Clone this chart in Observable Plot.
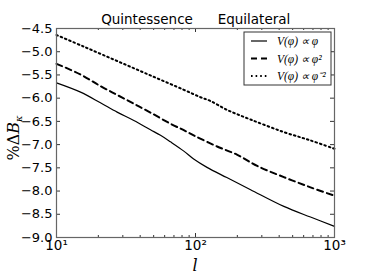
<!DOCTYPE html>
<html><head><meta charset="utf-8">
<script src="https://cdn.jsdelivr.net/npm/d3@7"></script>
<script src="https://cdn.jsdelivr.net/npm/@observablehq/plot@0.6"></script>
<style>body{margin:0;background:#fff}</style>
</head><body><div id="chart"></div>
<script>
// ---- data ----
const lSolid = [10, 14.9, 20.7, 27.3, 36, 47.4, 56, 66, 82.4, 97, 121, 168, 249, 432, 672, 1000];
const vSolid = [-5.67, -5.87, -6.10, -6.30, -6.48, -6.68, -6.80, -6.94, -7.14, -7.31, -7.49, -7.71, -7.97, -8.33, -8.56, -8.76];
const lDashed = [10, 14.9, 20.7, 27.3, 36, 47.4, 66, 82.4, 100, 143, 200, 278, 432, 672, 1000];
const vDashed = [-5.26, -5.49, -5.74, -5.93, -6.12, -6.31, -6.55, -6.69, -6.82, -7.04, -7.22, -7.46, -7.70, -7.92, -8.10];
const lDotted = [10, 15.7, 27.3, 47.4, 82.4, 108.7, 128, 168, 249, 432, 672, 1000];
const vDotted = [-4.64, -4.89, -5.20, -5.51, -5.82, -5.98, -6.06, -6.25, -6.46, -6.73, -6.91, -7.09];
const seriesNames = ["V(φ) ∝ φ", "V(φ) ∝ φ²", "V(φ) ∝ φ⁻²"];
const xMajor = [10, 100, 1000];
const xTickLabels = ["10¹", "10²", "10³"];
const xMinor = [20, 30, 40, 50, 60, 70, 80, 90, 200, 300, 400, 500, 600, 700, 800, 900];
const yTicks = [-9.0, -8.5, -8.0, -7.5, -7.0, -6.5, -6.0, -5.5, -5.0, -4.5];
const titleParts = ["Quintessence", "Equilateral"];

// ---- build ----
const W = 374, H = 280, mL = 56, mR = 40, mT = 28, mB = 43;
const iW = W - mL - mR, iH = H - mT - mB;
const toRows = (ls, vs) => ls.map((l, i) => ({l, v: vs[i]}));
const solid = toRows(lSolid, vSolid), dashed = toRows(lDashed, vDashed), dotted = toRows(lDotted, vDotted);
const styles = [
  {stroke: "black", strokeWidth: 1.2},
  {stroke: "black", strokeWidth: 2, strokeDasharray: "6,4"},
  {stroke: "black", strokeWidth: 2, strokeDasharray: "1.6,3"}
];
const fmtY = d => d.toFixed(1).replace("-", "−");
const plot = Plot.plot({
  width: W, height: H, marginLeft: mL, marginRight: mR, marginTop: mT, marginBottom: mB,
  style: {fontFamily: "DejaVu Sans", fontSize: "13px", background: "white", color: "black"},
  x: {type: "log", domain: [10, 1000]},
  y: {domain: [-9, -4.5]},
  marks: [
    Plot.line(solid, {x: "l", y: "v", curve: "catmull-rom", ...styles[0]}),
    Plot.line(dashed, {x: "l", y: "v", curve: "catmull-rom", ...styles[1]}),
    Plot.line(dotted, {x: "l", y: "v", curve: "catmull-rom", ...styles[2]}),
    // inward ticks
    Plot.ruleX(xMajor, {x: d => d, insetTop: iH - 4, stroke: "#333"}),
    Plot.ruleX(xMajor, {x: d => d, insetBottom: iH - 4, stroke: "#333"}),
    Plot.ruleX(xMinor, {x: d => d, insetTop: iH - 2, stroke: "#333"}),
    Plot.ruleX(xMinor, {x: d => d, insetBottom: iH - 2, stroke: "#333"}),
    Plot.ruleY(yTicks, {y: d => d, insetRight: iW - 4, stroke: "#333"}),
    Plot.ruleY(yTicks, {y: d => d, insetLeft: iW - 4, stroke: "#333"}),
    Plot.axisX(xMajor, {tickSize: 0, tickPadding: 3, tickFormat: d => xTickLabels[xMajor.indexOf(d)], label: null, fontSize: 13.5}),
    Plot.axisY(yTicks, {tickSize: 0, tickPadding: 4, tickFormat: fmtY, label: null}),
    Plot.frame({stroke: "#666", strokeWidth: 1.2})
  ]
});
document.getElementById("chart").append(plot);

const svg = d3.select(plot);
// title
svg.append("text").attr("x", 147).attr("y", 24).attr("text-anchor", "middle")
  .attr("font-family", "DejaVu Sans").attr("font-size", 13.5).text(titleParts[0]);
svg.append("text").attr("x", 254).attr("y", 24).attr("text-anchor", "middle")
  .attr("font-family", "DejaVu Sans").attr("font-size", 13.5).text(titleParts[1]);
// x label
svg.append("text").attr("x", mL + iW / 2).attr("y", 271).attr("text-anchor", "middle")
  .attr("font-family", "DejaVu Serif").attr("font-style", "italic").attr("font-size", 16).text("l");
// y label
const yl = svg.append("text").attr("transform", `translate(19,138) rotate(-90)`)
  .attr("text-anchor", "middle").attr("font-family", "DejaVu Serif").attr("font-size", 16);
yl.append("tspan").text("%Δ");
yl.append("tspan").attr("font-style", "italic").text("B");
yl.append("tspan").attr("font-style", "italic").attr("font-size", 10).attr("dy", 3).text("κ");
// legend
const lg = svg.append("g");
lg.append("rect").attr("x", 244).attr("y", 32).attr("width", 87).attr("height", 53)
  .attr("fill", "white").attr("stroke", "#333").attr("stroke-width", 1);
const rowsY = [41, 58.5, 76];
seriesNames.forEach((name, i) => {
  const s = styles[i];
  lg.append("line").attr("x1", 251).attr("x2", 267).attr("y1", rowsY[i]).attr("y2", rowsY[i])
    .attr("stroke", s.stroke).attr("stroke-width", s.strokeWidth)
    .attr("stroke-dasharray", s.strokeDasharray || null);
  lg.append("text").attr("x", 277).attr("y", rowsY[i] + 4).attr("text-anchor", "start")
    .attr("font-family", "Liberation Serif").attr("font-style", "italic").attr("font-size", 11.5)
    .text(name);
});
</script>
</body></html>
